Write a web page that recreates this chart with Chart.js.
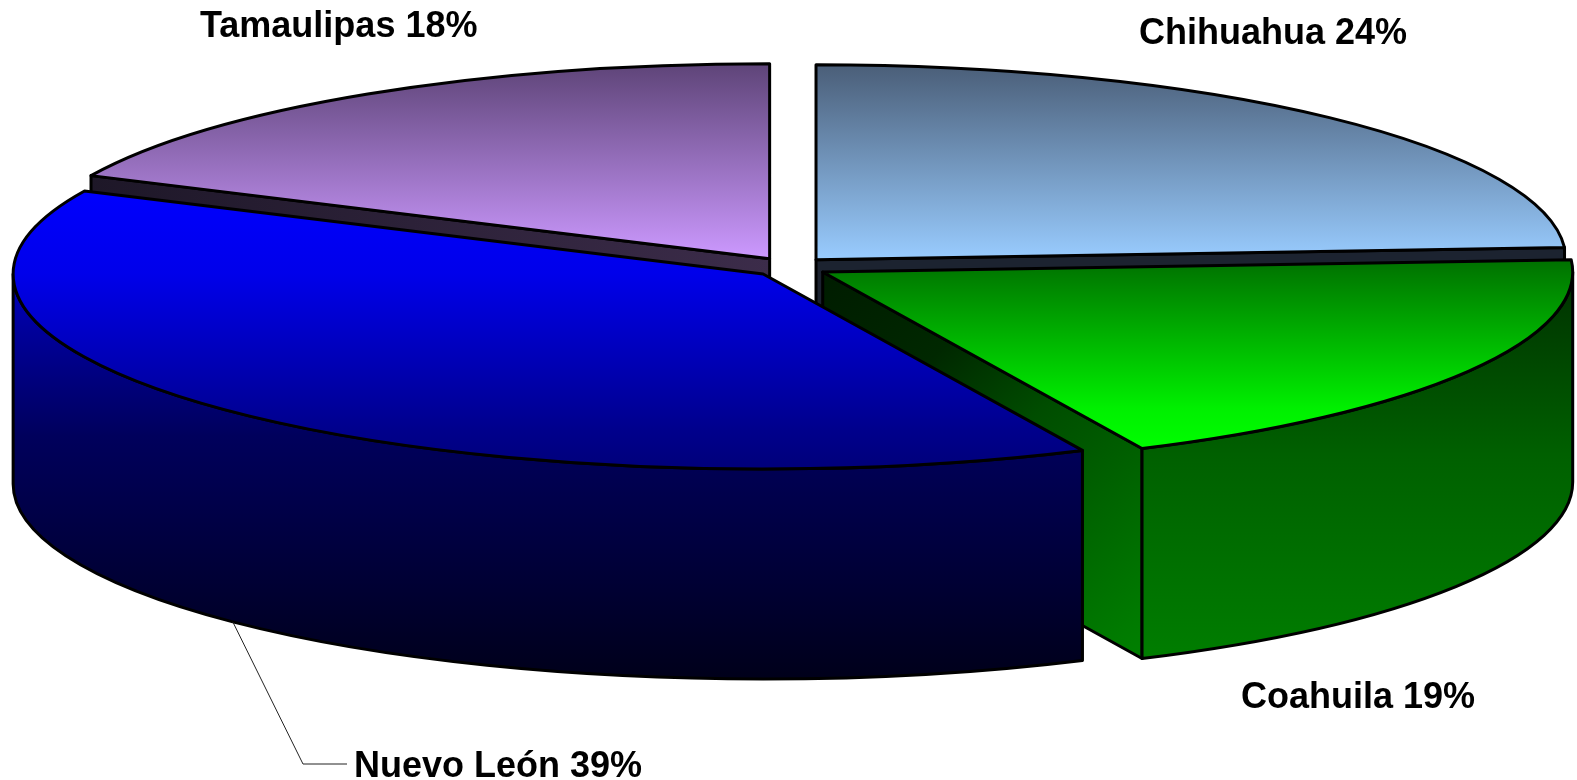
<!DOCTYPE html>
<html>
<head>
<meta charset="utf-8">
<title>Participación por estado</title>
<script src="https://cdn.jsdelivr.net/npm/chart.js@4/dist/chart.umd.min.js"></script>
<style>
  html, body { margin: 0; padding: 0; background: #fff; }
  canvas { display: block; }
</style>
</head>
<body>
<canvas id="myChart" width="1577" height="780"></canvas>
<script>
// data (clockwise from 12 o'clock)
const categories = ['Chihuahua', 'Coahuila', 'Nuevo León', 'Tamaulipas'];
const shares = [24, 19, 39, 18];

// look of the 3d pie
const PX = 790, PY = 267;      // centre of the pie on screen
const RX = 750, RY = 195;      // ellipse radii of the top face
const DEPTH = 210;             // thickness
const EXPLODE = 38;            // distance every slice is pulled out
const R0 = 300;                // radius chart.js lays the pie out with

// gradient stops, t = 0 top of the ellipse, t = 1 bottom of it
const topStops = [
    [[0, '#4a5e78'], [0.5, '#99ccff']],
    [[0.45, '#006a00'], [0.85, '#00f000'], [0.96, '#00ff00']],
    [[0.27, '#0000ff'], [0.5, '#0000ea'], [0.9, '#00008c'], [1, '#00007a']],
    [[0, '#5e4478'], [0.5, '#cc99ff']]
];
// outer (curved) walls, from slice centre down to bottom of wall
const sideStops = [
    [[0, '#2a3648'], [1, '#101820']],
    [[0, '#003000'], [0.45, '#006000'], [1, '#008000']],
    [[0, '#0000c0'], [0.14, '#00009a'], [0.4, '#00005c'], [1, '#00001a']],
    [[0, '#3a2c48'], [1, '#1c1626']]
];
// cut (radial) walls, from slice centre to outer bottom corner
const cutStops = [
    [[0, '#1c2330'], [1, '#1c2330']],
    [[0, '#001c00'], [0.27, '#002800'], [0.49, '#004d00'], [0.93, '#007a00'], [1, '#008000']],
    [[0, '#000040'], [1, '#000020']],
    [[0, '#3c2c4a'], [1, '#1c1626']]
];
// label anchor (left, baseline) and whether it gets a leader line
const labelPos = [[1139, 44], [1241, 708], [354, 777], [200, 37]];
const labelLeader = [false, false, true, false];

function addStops(g, stops) {
    stops.forEach(([t, c]) => g.addColorStop(t, c));
    return g;
}

function topFill(c) {
    const chart = c.chart;
    const area = chart.chartArea;
    if (!area || c.dataIndex === undefined) return '#888';
    const cy = (area.top + area.bottom) / 2;
    const g = chart.ctx.createLinearGradient(0, cy - R0, 0, cy + R0);
    return addStops(g, topStops[c.dataIndex]);
}

function sliceGeom(chart) {
    const meta = chart.getDatasetMeta(0);
    return meta.data.map((arc, i) => {
        const h = (arc.startAngle + arc.endAngle) / 2;
        return {
            i: i, arc: arc, h: h,
            a0: arc.startAngle, a1: arc.endAngle,
            x: PX + EXPLODE * Math.cos(h),
            y: PY + EXPLODE * (RY / RX) * Math.sin(h)
        };
    });
}

function outline(ctx) {
    ctx.lineWidth = 3;
    ctx.strokeStyle = '#000';
    ctx.lineJoin = 'round';
    ctx.stroke();
}

const pie3d = {
    id: 'pie3d',
    beforeDatasetDraw(chart) {
        const ctx = chart.ctx;
        const slices = sliceGeom(chart);

        // radial walls that face the viewer, back ones first
        const walls = [];
        slices.forEach(s => {
            if (Math.cos(s.a0) < -0.01) walls.push({ s: s, a: s.a0 });
            if (Math.cos(s.a1) > 0.01) walls.push({ s: s, a: s.a1 });
        });
        walls.sort((p, q) => Math.sin(p.a) - Math.sin(q.a));
        walls.forEach(w => {
            const s = w.s;
            const ex = s.x + RX * Math.cos(w.a), ey = s.y + RY * Math.sin(w.a);
            ctx.beginPath();
            ctx.moveTo(s.x, s.y);
            ctx.lineTo(ex, ey);
            ctx.lineTo(ex, ey + DEPTH);
            ctx.lineTo(s.x, s.y + DEPTH);
            ctx.closePath();
            ctx.fillStyle = addStops(ctx.createLinearGradient(s.x, s.y, ex, ey + DEPTH), cutStops[s.i]);
            ctx.fill();
            outline(ctx);
        });

        // curved outer walls, front half only
        slices.forEach(s => {
            const b0 = Math.max(s.a0, 0), b1 = Math.min(s.a1, Math.PI);
            if (b1 <= b0) return;
            ctx.beginPath();
            ctx.ellipse(s.x, s.y, RX, RY, 0, b0, b1);
            ctx.ellipse(s.x, s.y + DEPTH, RX, RY, 0, b1, b0, true);
            ctx.closePath();
            ctx.fillStyle = addStops(ctx.createLinearGradient(0, s.y, 0, s.y + RY + DEPTH), sideStops[s.i]);
            ctx.fill();
            outline(ctx);
        });

        // top faces: chart.js arcs drawn under an elliptical transform
        slices.forEach(s => {
            const R = s.arc.outerRadius;
            ctx.save();
            ctx.translate(s.x, s.y);
            ctx.scale(RX / R, RY / R);
            ctx.translate(-s.arc.x, -s.arc.y);
            s.arc.draw(ctx);
            ctx.restore();
            ctx.beginPath();
            ctx.moveTo(s.x, s.y);
            ctx.ellipse(s.x, s.y, RX, RY, 0, s.a0, s.a1);
            ctx.closePath();
            outline(ctx);
        });
        return false;
    },
    afterDraw(chart) {
        const ctx = chart.ctx;
        const slices = sliceGeom(chart);
        ctx.save();
        ctx.font = 'bold 36px "Liberation Sans", Arial, sans-serif';
        ctx.fillStyle = '#000';
        ctx.textAlign = 'left';
        ctx.textBaseline = 'alphabetic';
        slices.forEach(s => {
            const [lx, ly] = labelPos[s.i];
            ctx.fillText(categories[s.i] + ' ' + shares[s.i] + '%', lx, ly);
            if (labelLeader[s.i]) {
                ctx.beginPath();
                ctx.moveTo(s.x + RX * Math.cos(s.h), s.y + DEPTH + RY * Math.sin(s.h));
                ctx.lineTo(lx - 51, ly - 13);
                ctx.lineTo(lx - 7, ly - 13);
                ctx.lineWidth = 1;
                ctx.strokeStyle = '#222';
                ctx.stroke();
            }
        });
        ctx.restore();
    }
};

new Chart(document.getElementById('myChart'), {
    type: 'pie',
    data: {
        labels: categories,
        datasets: [{
            data: shares,
            backgroundColor: topFill,
            borderWidth: 0
        }]
    },
    options: {
        responsive: false,
        animation: false,
        events: [],
        radius: R0,
        layout: { padding: 0 },
        plugins: {
            legend: { display: false },
            tooltip: { enabled: false }
        }
    },
    plugins: [pie3d]
});
</script>
</body>
</html>
